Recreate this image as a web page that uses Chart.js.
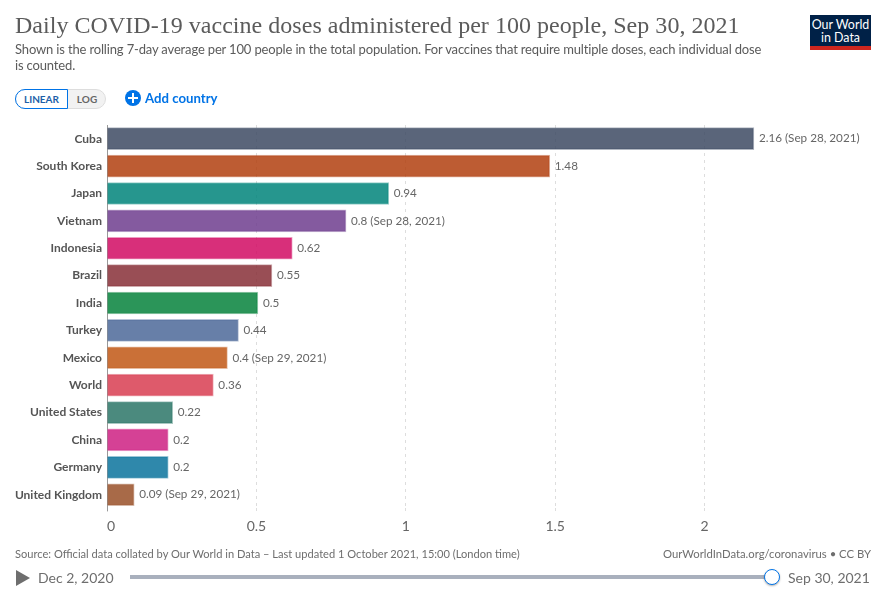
<!DOCTYPE html>
<html>
<head>
<meta charset="utf-8">
<script src="https://cdn.jsdelivr.net/npm/chart.js@4"></script>
<style>
  html, body { margin: 0; padding: 0; background: #fff; }
  body { width: 886px; height: 591px; position: relative; overflow: hidden; font-family: Lato, sans-serif; }
  #chart { position: absolute; left: 0; top: 0; }
  .abs { position: absolute; white-space: nowrap; }
  #title { left: 15px; top: 12px; font: 24px "Liberation Serif", serif; color: #5b5b5b; letter-spacing: 0.03px; }
  .sub { left: 15px; font-size: 13px; color: #5b5b5b; letter-spacing: -0.155px; }
  #toggle { left: 15px; top: 89px; width: 91px; height: 20px; border-radius: 10px; background: #f2f2f2; border: 1px solid #ddd; box-sizing: border-box; }
  #linear { left: 15px; top: 89px; width: 53px; height: 20px; box-sizing: border-box; border: 1px solid #0073e6; border-radius: 10px 0 0 10px; background: #fff; color: #1d5fa8; font-size: 10px; font-weight: 700; text-align: center; line-height: 19px; }
  #log { left: 68px; top: 89px; width: 38px; height: 20px; color: #666; font-size: 10px; font-weight: 700; text-align: center; line-height: 20px; }
  #addIcon { left: 125px; top: 90px; width: 16px; height: 16px; border-radius: 50%; background: #0073e6; }
  #addIcon::before { content: ""; position: absolute; left: 3px; top: 7px; width: 10px; height: 2px; background: #fff; }
  #addIcon::after { content: ""; position: absolute; left: 7px; top: 3px; width: 2px; height: 10px; background: #fff; }
  #addText { left: 145px; top: 90px; font-size: 13.2px; font-weight: 700; color: #0073e6; }
  #logo { left: 810px; top: 15px; width: 61px; height: 35px; background: #002147; color: #fff; font-size: 12.4px; line-height: 13.5px; text-align: center; box-sizing: border-box; padding-top: 2.5px; }
  #logoBar { left: 810px; top: 46px; width: 61px; height: 4px; background: #ce261e; }
  #source { left: 15px; top: 547px; font-size: 11.1px; color: #6e6e6e; }
  #site { right: 15px; top: 547px; font-size: 11.3px; color: #6e6e6e; }
  #play { left: 16px; top: 570px; width: 0; height: 0; border-left: 14px solid #6e6e6e; border-top: 8px solid transparent; border-bottom: 8px solid transparent; }
  .date { top: 569px; font-size: 14px; color: #6e6e6e; }
  #track { left: 130px; top: 575px; width: 642px; height: 4px; background: #a9b0bd; }
  #knob { left: 764px; top: 569px; width: 16px; height: 16px; border-radius: 50%; background: #fff; border: 1.5px solid #0073e6; box-sizing: border-box; box-shadow: 0 1px 2px rgba(0,0,0,.3); }
</style>
</head>
<body>
<canvas id="chart" width="886" height="591"></canvas>

<div class="abs" id="title">Daily COVID-19 vaccine doses administered per 100 people, Sep 30, 2021</div>
<div class="abs sub" style="top:41px">Shown is the rolling 7-day average per 100 people in the total population. For vaccines that require multiple doses, each individual dose</div>
<div class="abs sub" style="top:57px">is counted.</div>
<div class="abs" id="toggle"></div>
<div class="abs" id="linear">LINEAR</div>
<div class="abs" id="log">LOG</div>
<div class="abs" id="addIcon"></div>
<div class="abs" id="addText">Add country</div>
<div class="abs" id="logo">Our World<br>in Data</div>
<div class="abs" id="logoBar"></div>
<div class="abs" id="source">Source: Official data collated by Our World in Data – Last updated 1 October 2021, 15:00 (London time)</div>
<div class="abs" id="site">OurWorldInData.org/coronavirus • CC BY</div>
<div class="abs" id="play"></div>
<div class="abs date" style="left:38px">Dec 2, 2020</div>
<div class="abs" id="track"></div>
<div class="abs" id="knob"></div>
<div class="abs date" style="left:788px">Sep 30, 2021</div>

<script>
const countries = ['Cuba', 'South Korea', 'Japan', 'Vietnam', 'Indonesia', 'Brazil', 'India', 'Turkey', 'Mexico', 'World', 'United States', 'China', 'Germany', 'United Kingdom'];
// bar lengths as measured, the printed labels are rounded
const doses = [2.165, 1.482, 0.943, 0.8, 0.62, 0.552, 0.505, 0.44, 0.403, 0.356, 0.22, 0.205, 0.205, 0.091];
const doseLabels = ['2.16 (Sep 28, 2021)', '1.48', '0.94', '0.8 (Sep 28, 2021)', '0.62', '0.55', '0.5', '0.44', '0.4 (Sep 29, 2021)', '0.36', '0.22', '0.2', '0.2', '0.09 (Sep 29, 2021)'];
const barColors = ['rgba(61,74,99,0.85)', 'rgba(177,63,15,0.85)', 'rgba(0,132,122,0.85)', 'rgba(111,61,142,0.85)', 'rgba(209,10,99,0.85)', 'rgba(135,47,55,0.85)', 'rgba(6,131,60,0.85)', 'rgba(76,105,153,0.85)', 'rgba(193,87,20,0.85)', 'rgba(216,61,81,0.85)', 'rgba(43,117,103,0.85)', 'rgba(206,32,130,0.85)', 'rgba(10,115,156,0.85)', 'rgba(153,80,40,0.85)'];
const barEdges = ['rgba(61,74,99,0.4)', 'rgba(177,63,15,0.4)', 'rgba(0,132,122,0.4)', 'rgba(111,61,142,0.4)', 'rgba(209,10,99,0.4)', 'rgba(135,47,55,0.4)', 'rgba(6,131,60,0.4)', 'rgba(76,105,153,0.4)', 'rgba(193,87,20,0.4)', 'rgba(216,61,81,0.4)', 'rgba(43,117,103,0.4)', 'rgba(206,32,130,0.4)', 'rgba(10,115,156,0.4)', 'rgba(153,80,40,0.4)'];
const xTicks = [0, 0.5, 1, 1.5, 2];

// value labels next to the bars, and axis numbers (the 0 is left aligned on its tick)
const textLabels = {
    id: 'textLabels',
    afterDatasetsDraw(chart) {
        const ctx = chart.ctx;
        ctx.save();
        ctx.font = '11.7px Lato';
        ctx.fillStyle = '#666';
        ctx.textBaseline = 'middle';
        chart.getDatasetMeta(0).data.forEach((bar, i) => {
            ctx.fillText(doseLabels[i], bar.x + 5, bar.y);
        });
        ctx.font = '14px Lato';
        xTicks.forEach(v => {
            ctx.textAlign = v === 0 ? 'left' : 'center';
            ctx.fillText(String(v), chart.scales.x.getPixelForValue(v), 526);
        });
        ctx.restore();
    }
};

new Chart(document.getElementById('chart'), {
    type: 'bar',
    data: {
        labels: countries,
        datasets: [{
            data: doses,
            backgroundColor: barColors,
            borderColor: barEdges,
            borderWidth: 1,
            barThickness: 22
        }]
    },
    plugins: [textLabels],
    options: {
        indexAxis: 'y',
        responsive: false,
        animation: false,
        layout: { padding: { left: 0, right: 32, top: 125, bottom: 79.6 } },
        plugins: { legend: { display: false }, tooltip: { enabled: false } },
        scales: {
            x: {
                min: 0,
                max: 2.5,
                afterBuildTicks(axis) { axis.ticks = xTicks.map(v => ({ value: v })); },
                border: { display: false, dash: [3, 4] },
                grid: {
                    color: ctx => ctx.tick && ctx.tick.value === 0 ? 'rgba(0,0,0,0)' : '#ddd',
                    tickColor: ctx => ctx.tick && ctx.tick.value === 0 ? '#999' : '#ddd',
                    tickBorderDash: ctx => ctx.tick && ctx.tick.value === 0 ? [] : [3, 4],
                    lineWidth: 1,
                    tickLength: 3
                },
                ticks: { display: false }
            },
            y: {
                afterFit(axis) { axis.width = 107; },
                border: { display: true, color: '#999', width: 1 },
                grid: { display: false, drawTicks: false },
                ticks: { color: '#555', font: { family: 'Lato', size: 12, weight: 'bold' }, padding: 5, autoSkip: false }
            }
        }
    }
});
</script>
</body>
</html>
